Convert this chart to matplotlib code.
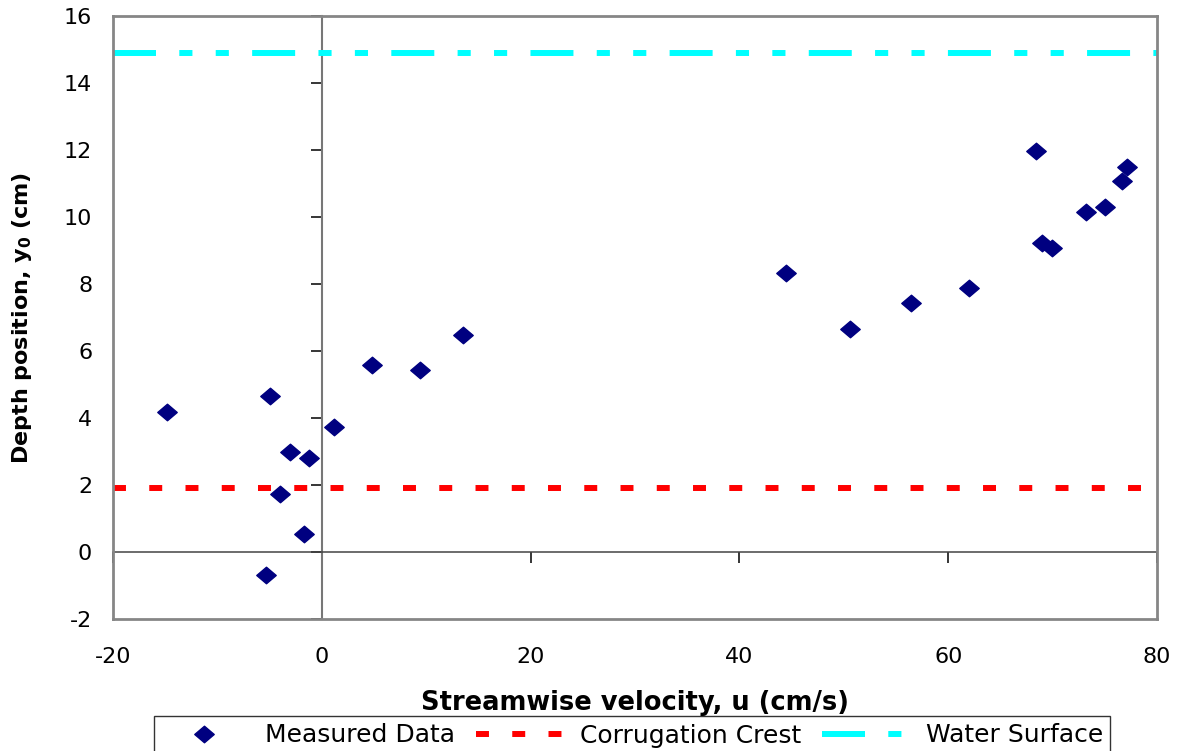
import matplotlib
matplotlib.use("Agg")
import matplotlib.pyplot as plt
from matplotlib.path import Path

# measured velocity profile
velocity = [-14.8, -5.0, -5.35, -3.0, -4.0, -1.2, -1.75, 1.2, 4.8, 9.4, 13.5,
            44.5, 50.6, 56.4, 62.0, 68.4, 69.0, 69.9, 73.2, 75.0, 76.6, 77.1]
depth = [4.19, 4.65, -0.69, 2.98, 1.74, 2.81, 0.54, 3.73, 5.57, 5.42, 6.49,
         8.33, 6.66, 7.43, 7.87, 11.97, 9.22, 9.07, 10.14, 10.29, 11.06, 11.5]

crest_depth = 1.9
water_surface = 14.9

x_ticks = [-20, 0, 20, 40, 60, 80]
y_ticks = [-2, 0, 2, 4, 6, 8, 10, 12, 14, 16]

plt.rcParams["font.family"] = "DejaVu Sans"
plt.rcParams["axes.unicode_minus"] = False

fig = plt.figure(figsize=(11.78, 7.51), dpi=100)
rect = [113 / 1178, 1 - 619 / 751, 1044 / 1178, 603 / 751]

# axis lines through zero (Excel style), drawn behind the data
ax0 = fig.add_axes(rect)
ax = fig.add_axes(rect, sharex=ax0, sharey=ax0)

ax0.set_zorder(1)
ax.set_zorder(2)
ax.patch.set_visible(False)

for s in ["top", "right"]:
    ax0.spines[s].set_visible(False)
ax0.spines["left"].set_position(("data", 0))
ax0.spines["bottom"].set_position(("data", 0))
ax0.spines["left"].set_color("#777777")
ax0.spines["left"].set_linewidth(1.5)
ax0.spines["bottom"].set_color("#444444")
ax0.spines["bottom"].set_linewidth(1.1)
ax0.tick_params(direction="out", length=8, width=1.1, color="black",
                labelleft=False, labelbottom=False)

# wide diamond like the Excel marker
diamond = Path([(-1, 0), (0, 0.85), (1, 0), (0, -0.85), (-1, 0)],
               [Path.MOVETO, Path.LINETO, Path.LINETO, Path.LINETO, Path.CLOSEPOLY])

ax.plot(velocity, depth, linestyle="none", marker=diamond, markersize=14,
        color="#000080", markeredgecolor="#000080", label="Measured Data")
ax.axhline(crest_depth, color="#ff0000", lw=4.3, dashes=(2.17, 3.9),
           dash_capstyle="butt", label="Corrugation Crest")
ax.axhline(water_surface, color="#00ffff", lw=4.3,
           dashes=(7.2, 3.9, 2.2, 3.9, 2.2, 3.9), dash_capstyle="butt",
           label="Water Surface")

ax.set_xlim(-20, 80)
ax.set_ylim(-2, 16)
ax.set_xticks(x_ticks)
ax.set_yticks(y_ticks)
ax.tick_params(length=0, labelsize=16)
ax.tick_params(axis="y", pad=15)
ax.tick_params(axis="x", pad=20)
for s in ax.spines.values():
    s.set_color("#868686")
    s.set_linewidth(2)

ax.set_xlabel("Streamwise velocity, u (cm/s)", fontsize=18.5, fontweight="bold")
ax.set_ylabel(r"Depth position, y$_\mathbf{0}$ (cm)", fontsize=16, fontweight="bold")
ax.xaxis.set_label_coords(0.5, -0.117)
ax.yaxis.set_label_coords(-0.076, 0.5)

leg = ax.legend(loc="upper center", bbox_to_anchor=(632 / 1178, 1 - 716 / 751),
                bbox_transform=fig.transFigure, ncol=3, fontsize=18,
                frameon=True, fancybox=False, edgecolor="black",
                handlelength=3.44, handletextpad=0.7, columnspacing=0.85,
                borderpad=0.3, borderaxespad=0, numpoints=1)
leg.get_frame().set_linewidth(1)

fig.savefig("out.png", dpi=100, facecolor="white")
